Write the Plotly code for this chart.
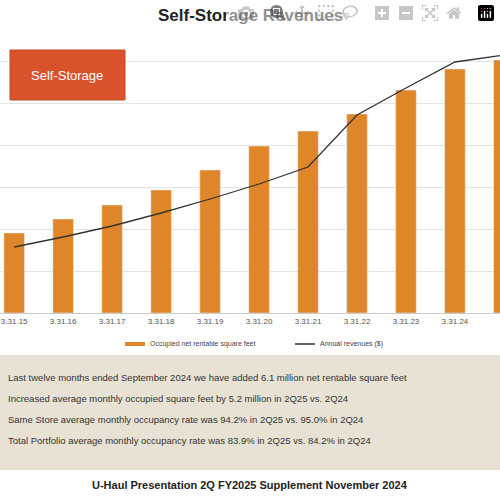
import plotly.graph_objects as go

categories = ["3.31.15","3.31.16","3.31.17","3.31.18","3.31.19","3.31.20","3.31.21","3.31.22","3.31.23","3.31.24","3.31.25"]
occupied_sqft = [80, 94, 108, 123, 143, 167, 182, 199, 223, 244, 253]
annual_revenue = [66, 76, 87, 100, 114, 129, 146, 198, 225, 251, 258]
bullets = [
    "Last twelve months ended September 2024 we have added 6.1 million net rentable square feet",
    "Increased average monthly occupied square feet by 5.2 million in 2Q25 vs. 2Q24",
    "Same Store average monthly occupancy rate was 94.2% in 2Q25 vs. 95.0% in 2Q24",
    "Total Portfolio average monthly occupancy rate was 83.9% in 2Q25 vs. 84.2% in 2Q24",
]

T, B = 45, 313
def py(pix):
    return (B - pix) / (B - T)

x = list(range(len(categories)))
fig = go.Figure()
fig.add_bar(x=x, y=occupied_sqft, marker_color="#E0862A", width=0.42, name="Occupied net rentable square feet")
fig.add_scatter(x=x, y=annual_revenue, mode="lines", line=dict(color="#333333", width=1.3), name="Annual revenues ($)")

fig.update_layout(
    width=500, height=500, showlegend=False,
    margin=dict(l=0, r=0, t=T, b=500 - B),
    paper_bgcolor="white", plot_bgcolor="white",
    xaxis=dict(range=[-0.29, 9.92], tickvals=x, ticktext=categories, tickfont=dict(size=8, color="#555"),
               showgrid=False, zeroline=False, showline=True, linecolor="#ccc"),
    yaxis=dict(range=[0, 268], showticklabels=False, gridcolor="#e3e3e3", dtick=42, zeroline=False),
    font=dict(family="Liberation Sans"),
)
shapes = [
    dict(type="rect", xref="paper", yref="paper", x0=0, x1=1, y0=py(470), y1=py(355),
         fillcolor="#E7E2D3", line=dict(width=0), layer="below"),
    dict(type="rect", xref="paper", yref="paper", x0=10/500, x1=125/500, y0=py(100), y1=py(50),
         fillcolor="#D9522B", line=dict(color="#c04a25", width=1)),
    dict(type="line", xref="paper", yref="paper", x0=125/500, x1=145/500, y0=py(344), y1=py(344),
         line=dict(color="#E0862A", width=4)),
    dict(type="line", xref="paper", yref="paper", x0=295/500, x1=315/500, y0=py(344), y1=py(344),
         line=dict(color="#333", width=1.5)),
]
ann = [
    dict(text="<b>Self-Storage Revenues</b>", x=0.5, y=py(15), xanchor="center", font=dict(size=17, color="#222")),
    dict(text="Self-Storage", x=67/500, y=py(75), xanchor="center", font=dict(size=13, color="white")),
    dict(text="Occupied net rentable square feet", x=148/500, y=py(344), xanchor="left", font=dict(size=7, color="#444")),
    dict(text="Annual revenues ($)", x=318/500, y=py(344), xanchor="left", font=dict(size=7, color="#444")),
    dict(text="<b>U-Haul Presentation 2Q FY2025 Supplement November 2024</b>", x=0.5, y=py(485), xanchor="center", font=dict(size=11, color="#222")),
]
for i, t in enumerate(bullets):
    ann.append(dict(text=t, x=6/500, y=py(377 + i * 21), xanchor="left", font=dict(size=9.5, color="#333")))
for a in ann:
    a.update(xref="paper", yref="paper", showarrow=False, yanchor="middle")
fig.update_layout(shapes=shapes, annotations=ann)
fig.write_html("out.html")
with open("out.html") as f:
    html = f.read()
html = html.replace("<head>", "<head><style>html,body{margin:0;padding:0;overflow:hidden}</style>", 1)
with open("out.html", "w") as f:
    f.write(html)
